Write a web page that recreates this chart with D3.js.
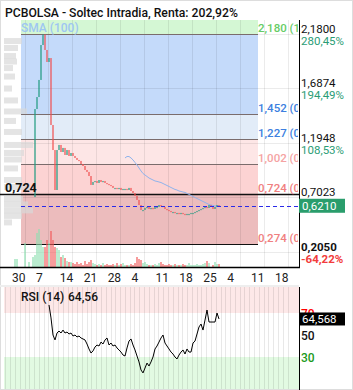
<!DOCTYPE html>
<html>
<head>
<meta charset="utf-8">
<script src="https://cdn.jsdelivr.net/npm/d3@7"></script>
<style>
  body { margin: 0; background: #fff; }
  svg { display: block; font-family: Roboto, "Noto Sans", sans-serif; }
</style>
</head>
<body>
<script>
const width = 353;
const height = 390;

// ---- data ----
const title = "PCBOLSA - Soltec Intradia, Renta: 202,92%";
const weekLabels = ["30", "7", "14", "21", "28", "4", "11", "18", "25", "4", "11", "18"];

// closes per bar, bars start at index 10
const firstBar = 10;
const firstOpen = 0.70;
const closes = [
  1.499, 1.608, 1.763, 2.080, 2.175, 2.035, 1.926, 1.962, 1.354, 1.127,
  0.764, 1.127, 1.173, 1.109, 1.146, 1.082, 1.127, 1.073, 1.100, 1.073,
  1.055, 1.037, 1.028, 1.000, 0.982, 0.946, 0.928, 0.891, 0.810, 0.837,
  0.846, 0.828, 0.855, 0.837, 0.846, 0.828, 0.819, 0.810, 0.801, 0.783,
  0.783, 0.774, 0.783, 0.764, 0.774, 0.774, 0.764, 0.783, 0.755, 0.737,
  0.710, 0.674, 0.628, 0.583, 0.583, 0.601, 0.610, 0.592, 0.601, 0.592,
  0.610, 0.610, 0.628, 0.619, 0.610, 0.592, 0.583, 0.574, 0.565, 0.565,
  0.556, 0.556, 0.547, 0.556, 0.547, 0.538, 0.547, 0.547, 0.556, 0.556,
  0.565, 0.574, 0.583, 0.592, 0.601, 0.610, 0.601, 0.628, 0.619, 0.592,
  0.610, 0.628, 0.621
];

// volume per bar, from bar 0
const volumes = [
  8, 8, 0, 0, 0, 24, 0, 5, 0, 10,
  12, 34, 38, 27, 20, 20, 27, 24, 36, 27,
  20, 19, 17, 10, 12, 9, 6, 5, 5, 4,
  3, 5, 3, 4, 2, 6, 3, 5, 7, 4,
  3, 2, 3, 2, 4, 2, 3, 2, 2, 3,
  2, 4, 2, 3, 4, 2, 2, 2, 3, 2,
  4, 10, 8, 7, 4, 5, 3, 2, 2, 2,
  3, 2, 4, 5, 3, 2, 2, 3, 2, 2,
  3, 2, 2, 2, 3, 2, 2, 4, 2, 2,
  2, 3, 2, 2, 3, 4, 6, 4, 0, 2,
  5, 3, 3
];

// SMA(100), starts at bar 55
const smaStart = 55;
const smaValues = [
  1.055, 1.068, 1.068, 1.055, 1.037, 1.014, 0.991, 0.964, 0.937, 0.914,
  0.900, 0.887, 0.873, 0.864, 0.855, 0.846, 0.842, 0.837, 0.832, 0.823,
  0.814, 0.805, 0.796, 0.787, 0.778, 0.769, 0.764, 0.755, 0.751, 0.746,
  0.742, 0.733, 0.724, 0.715, 0.705, 0.696, 0.687, 0.678, 0.669, 0.660,
  0.651, 0.642, 0.633, 0.628, 0.624, 0.619, 0.619, 0.619
];

// RSI(14), starts at bar 17
const rsiStart = 17;
const rsiValues = [
  77.3, 65.5, 50, 45.5, 51.8, 53.6, 51.8, 54.5, 51.8, 52.7,
  50.9, 51.8, 49.1, 50, 48.2, 49.1, 47.3, 46.4, 45.5, 41.8,
  37.3, 33.6, 35.5, 39.1, 40.9, 40, 43.6, 41.8, 45.5, 47.3,
  40.9, 42.7, 40, 40.9, 38.2, 36.4, 34.5, 31.8, 30.9, 38.2,
  44.5, 46.4, 40.9, 36.4, 30.9, 25.5, 18.2, 15.5, 20, 24.5,
  21.8, 25.5, 30, 37.3, 40, 43.6, 47.3, 50, 42.7, 40,
  37.3, 34.5, 32.7, 30, 28.2, 31.8, 34.5, 36.4, 32.7, 37.3,
  34.5, 34.5, 42.7, 44.5, 50.9, 57.3, 60, 54.5, 63.6, 72.7,
  61.8, 61.8, 61.8, 61.8, 70, 64.56
];

const fibLevels = [2.180, 1.452, 1.227, 1.002, 0.724, 0.274];
const fibRatios = ["1", "0,618", "0,5", "0,382", "0,236", "0"];
const priceTicks = [2.1800, 1.6874, 1.1948, 0.7023, 0.2050];
const pctTicks = ["280,45%", "194,49%", "108,53%", "22,57%", "-64,22%"];
const lastPrice = 0.6210;
const rsiLast = 64.568;
const rsiHeader = "64,56";
const rsiTicks = [70, 50, 30];

// volume profile on the left
const profilePrices = [2.116, 2.053, 1.980, 1.930, 1.871, 1.794, 1.685, 1.577, 1.477, 1.391,
  1.291, 1.173, 1.100, 1.041, 0.960, 0.855, 0.791, 0.683, 0.633, 0.579, 0.529, 0.470];
const profileVols = [18, 14, 12, 13, 9, 11, 8, 14, 23, 12,
  18, 29, 20, 18, 14, 18, 26, 19, 24, 29, 18, 8];

// ---- scales ----
const locale = d3.formatLocale({ decimal: ",", thousands: ".", grouping: [3], currency: ["", "€"] });
const f3 = locale.format(".3f");
const f4 = locale.format(".4f");

const plotL = 21, plotR = 299, plotT = 20, axisY = 267, zoneR = 258;
const y = d3.scaleLinear().domain([2.18, 0.274]).range([34, 244]);
const xBar = d3.scaleLinear().domain([0, 102]).range([15, 219]);
const xWeek = d3.scaleLinear().domain([0, 11]).range([25, 288]);
const yVol = d3.scaleLinear().domain([0, 38]).range([axisY, 229]);
const yRsi = d3.scaleLinear().domain([50, 70]).range([335, 313]);
const xProf = d3.scaleLinear().domain([0, 29]).range([4, 33]);

const svg = d3.select("body").append("svg")
  .attr("width", width).attr("height", height);

svg.append("rect").attr("x", 0.5).attr("y", 0.5)
  .attr("width", width - 1).attr("height", height - 1)
  .attr("fill", "#fff").attr("stroke", "#ddd");

svg.append("defs").append("clipPath").attr("id", "plotclip")
  .append("rect").attr("x", 0).attr("y", plotT).attr("width", plotR - 1).attr("height", axisY - plotT);

// zones between fib levels
const zoneColors = ["#d4f7d4", "#c4dafa", "#e2ecf8", "#fde6e6", "#fcd3d3", "#ecbcbd"];
const zoneBounds = [y.invert(plotT)].concat(fibLevels);
svg.append("g").selectAll("rect")
  .data(zoneColors)
  .join("rect")
  .attr("x", plotL)
  .attr("width", zoneR - plotL)
  .attr("y", (d, i) => y(zoneBounds[i]))
  .attr("height", (d, i) => y(zoneBounds[i + 1]) - y(zoneBounds[i]))
  .attr("fill", (d) => d);

// grid
const grid = svg.append("g").attr("stroke", "rgba(0,0,0,0.08)").attr("shape-rendering", "crispEdges");
grid.selectAll("line.v")
  .data(d3.range(weekLabels.length))
  .join("line")
  .attr("x1", (d) => xWeek(d)).attr("x2", (d) => xWeek(d))
  .attr("y1", plotT).attr("y2", axisY);
grid.selectAll("line.h")
  .data(priceTicks)
  .join("line")
  .attr("x1", plotL).attr("x2", plotR)
  .attr("y1", (d) => Math.round(y(d)) + 0.5).attr("y2", (d) => Math.round(y(d)) + 0.5);

// volume profile
svg.append("g").selectAll("rect")
  .data(profilePrices)
  .join("rect")
  .attr("x", 4)
  .attr("y", (d) => y(d) - 3)
  .attr("height", 6)
  .attr("width", (d, i) => xProf(profileVols[i]) - 4)
  .attr("fill", "#d8d8d8")
  .attr("opacity", 0.7);

// fib lines
svg.append("g").selectAll("line")
  .data(fibLevels)
  .join("line")
  .attr("x1", (d, i) => (i === 4 ? 0 : plotL))
  .attr("x2", (d, i) => (i === 4 ? plotR : zoneR))
  .attr("y1", (d) => Math.round(y(d)) + 0.5)
  .attr("y2", (d) => Math.round(y(d)) + 0.5)
  .attr("stroke", (d, i) => (i === 4 || i === 5 ? "#111" : "#7a6c6c"))
  .attr("stroke-width", (d, i) => (i === 4 ? 1.5 : 1));

const fibTextColors = ["#66cc66", "#3d7fe0", "#3d7fe0", "#f5a3a3", "#f08080", "#f08080"];
svg.append("g").attr("clip-path", "url(#plotclip)")
  .selectAll("text")
  .data(fibLevels)
  .join("text")
  .attr("x", zoneR)
  .attr("y", (d) => y(d) - 2)
  .attr("font-size", 11.5)
  .attr("font-weight", 500)
  .attr("fill", (d, i) => fibTextColors[i])
  .text((d, i) => `${f3(d)} (${fibRatios[i]})`);

// volume bars
const candles = closes.map((c, i) => ({
  bar: firstBar + i,
  open: i === 0 ? firstOpen : closes[i - 1],
  close: c
}));
const isUp = (j) => {
  const c = candles[j - firstBar];
  return !c || c.close >= c.open;
};
svg.append("g").selectAll("rect")
  .data(volumes)
  .join("rect")
  .attr("x", (d, j) => xBar(j) - 0.6)
  .attr("width", 1.2)
  .attr("y", (d) => yVol(d))
  .attr("height", (d) => axisY - yVol(d))
  .attr("fill", (d, j) => (isUp(j) ? "#8fe0b2" : "#f25c5c"));

// SMA
svg.append("path")
  .datum(smaValues)
  .attr("fill", "none")
  .attr("stroke", "#8fb3ec")
  .attr("stroke-width", 1)
  .attr("d", d3.line().x((d, i) => xBar(smaStart + i)).y((d) => y(d)));

// candles
svg.append("g").selectAll("rect")
  .data(candles)
  .join("rect")
  .attr("x", (d) => xBar(d.bar) - 0.6)
  .attr("width", 1.2)
  .attr("y", (d) => y(Math.max(d.open, d.close)))
  .attr("height", (d) => Math.max(1.2, Math.abs(y(d.open) - y(d.close))))
  .attr("fill", (d) => (d.close >= d.open ? "#1f9a80" : "#f04e4e"));

// last price dashed line
svg.append("line")
  .attr("x1", plotL).attr("x2", plotR)
  .attr("y1", Math.round(y(lastPrice)) + 0.5).attr("y2", Math.round(y(lastPrice)) + 0.5)
  .attr("stroke", "#2a2ae8").attr("stroke-dasharray", "4,3");

svg.append("text").attr("x", plotL).attr("y", 32)
  .attr("font-size", 12).attr("font-weight", 500).attr("fill", "#9ec6f2")
  .text("SMA (100)");

svg.append("text").attr("x", 5).attr("y", 192)
  .attr("font-size", 12.5).attr("font-weight", 700).attr("fill", "#111")
  .text(f3(fibLevels[4]));

// right price axis
svg.append("line").attr("x1", plotR + 0.5).attr("x2", plotR + 0.5)
  .attr("y1", plotT).attr("y2", axisY).attr("stroke", "#000");
const ax = svg.append("g");
ax.selectAll("text.p")
  .data(priceTicks)
  .join("text")
  .attr("x", 301)
  .attr("y", (d) => y(d) - 1)
  .attr("font-size", 11.5)
  .attr("font-weight", (d, i) => (i === priceTicks.length - 1 ? 700 : 400))
  .attr("fill", "#111")
  .text((d) => f4(d));
ax.selectAll("text.q")
  .data(pctTicks)
  .join("text")
  .attr("x", 301)
  .attr("y", (d, i) => y(priceTicks[i]) + 11)
  .attr("font-size", 11.5)
  .attr("font-weight", (d) => (d.startsWith("-") ? 700 : 400))
  .attr("fill", (d) => (d.startsWith("-") ? "#f23c3c" : "#2a9d76"))
  .text((d) => d);

svg.append("rect").attr("x", plotR).attr("y", y(lastPrice) - 7)
  .attr("width", 46).attr("height", 14).attr("fill", "#2a9d6c");
svg.append("text").attr("x", 302).attr("y", y(lastPrice) + 4.5)
  .attr("font-size", 11.5).attr("fill", "#fff").text(f4(lastPrice));

// x axis
svg.append("line").attr("x1", 0).attr("x2", plotR + 1)
  .attr("y1", axisY + 0.5).attr("y2", axisY + 0.5).attr("stroke", "#000").attr("stroke-width", 1.5);
svg.append("g").selectAll("text")
  .data(weekLabels)
  .join("text")
  .attr("x", (d, i) => xWeek(i) - 13)
  .attr("y", 282)
  .attr("font-size", 12)
  .attr("fill", "#222")
  .text((d) => d);

// title
svg.append("text").attr("x", 5).attr("y", 17)
  .attr("font-size", 12.2).attr("font-weight", 500).attr("fill", "#111")
  .text(title);

// ---- RSI pane ----
const rsiT = 287, rsiB = 389, rsiL = 4;
svg.append("rect").attr("x", 0).attr("y", 285).attr("width", plotR).attr("height", 2).attr("fill", "#eee");
svg.append("rect").attr("x", rsiL).attr("y", rsiT).attr("width", plotR - rsiL)
  .attr("height", yRsi(70) - rsiT).attr("fill", "#fde8e8");
svg.append("rect").attr("x", rsiL).attr("y", yRsi(30)).attr("width", plotR - rsiL)
  .attr("height", rsiB - yRsi(30)).attr("fill", "#e2fae2");
svg.append("g").attr("stroke", "rgba(0,0,0,0.09)").attr("shape-rendering", "crispEdges")
  .selectAll("line")
  .data(d3.range(-4, 56).map((d) => d / 5))
  .join("line")
  .attr("x1", (d) => xWeek(d)).attr("x2", (d) => xWeek(d))
  .attr("y1", rsiT).attr("y2", rsiB);

svg.append("path")
  .datum(rsiValues)
  .attr("fill", "none")
  .attr("stroke", "#000")
  .attr("stroke-width", 1)
  .attr("d", d3.line().x((d, i) => xBar(rsiStart + i)).y((d) => yRsi(d)));

svg.append("line").attr("x1", plotR + 0.5).attr("x2", plotR + 0.5)
  .attr("y1", rsiT).attr("y2", height).attr("stroke", "#000");
const rsiTickColors = ["#f00", "#111", "#1a9a1a"];
svg.append("g").selectAll("text")
  .data(rsiTicks)
  .join("text")
  .attr("x", 301)
  .attr("y", (d) => yRsi(d) + 4.5)
  .attr("font-size", 12)
  .attr("font-weight", 500)
  .attr("fill", (d, i) => rsiTickColors[i])
  .text((d) => d);
svg.append("rect").attr("x", plotR).attr("y", yRsi(rsiLast) - 6.5)
  .attr("width", 46).attr("height", 13).attr("fill", "#000");
svg.append("text").attr("x", 302).attr("y", yRsi(rsiLast) + 4.5)
  .attr("font-size", 11.5).attr("fill", "#fff").text(locale.format(".3f")(rsiLast));

svg.append("text").attr("x", 21).attr("y", 301)
  .attr("font-size", 12).attr("font-weight", 500).attr("fill", "#111")
  .text("RSI (14)");
svg.append("text").attr("x", 68).attr("y", 301)
  .attr("font-size", 12).attr("font-weight", 500).attr("fill", "#111")
  .text(rsiHeader);
</script>
</body>
</html>
